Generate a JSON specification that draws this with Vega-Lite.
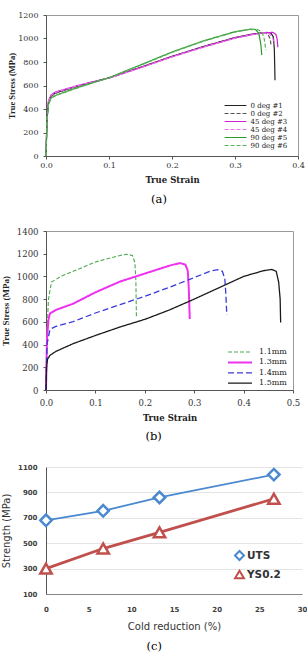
{
"$schema": "https://vega.github.io/schema/vega-lite/v6.json",
"padding": {"left": 0, "top": 10, "right": 0, "bottom": 0},
"spacing": 20,
"align": "none",
"background": "white",
"config": {"view": {"stroke": "#999"}, "title": {"color": "#000"}, "axis": {"labelFlush": false}},
"resolve": {"scale": {"color": "independent", "strokeDash": "independent", "strokeWidth": "independent"}, "legend": {"color": "independent", "strokeDash": "independent", "strokeWidth": "independent"}},
"datasets": {
"a": [
{"s":0,"t":0,"c":"0 deg #1"},{"s":0.001,"t":200,"c":"0 deg #1"},{"s":0.002,"t":350,"c":"0 deg #1"},{"s":0.004,"t":462,"c":"0 deg #1"},{"s":0.008,"t":512,"c":"0 deg #1"},{"s":0.015,"t":537,"c":"0 deg #1"},{"s":0.03,"t":562,"c":"0 deg #1"},{"s":0.057,"t":606,"c":"0 deg #1"},{"s":0.1,"t":665,"c":"0 deg #1"},{"s":0.15,"t":755,"c":"0 deg #1"},{"s":0.2,"t":848,"c":"0 deg #1"},{"s":0.25,"t":932,"c":"0 deg #1"},{"s":0.3,"t":1008,"c":"0 deg #1"},{"s":0.33,"t":1040,"c":"0 deg #1"},{"s":0.35,"t":1052,"c":"0 deg #1"},{"s":0.357,"t":1046,"c":"0 deg #1"},{"s":0.361,"t":1012,"c":"0 deg #1"},{"s":0.3625,"t":900,"c":"0 deg #1"},{"s":0.3635,"t":645,"c":"0 deg #1"},
{"s":0,"t":0,"c":"0 deg #2"},{"s":0.001,"t":195,"c":"0 deg #2"},{"s":0.002,"t":345,"c":"0 deg #2"},{"s":0.004,"t":458,"c":"0 deg #2"},{"s":0.008,"t":508,"c":"0 deg #2"},{"s":0.015,"t":533,"c":"0 deg #2"},{"s":0.03,"t":560,"c":"0 deg #2"},{"s":0.057,"t":604,"c":"0 deg #2"},{"s":0.1,"t":663,"c":"0 deg #2"},{"s":0.15,"t":753,"c":"0 deg #2"},{"s":0.2,"t":846,"c":"0 deg #2"},{"s":0.25,"t":930,"c":"0 deg #2"},{"s":0.3,"t":1005,"c":"0 deg #2"},{"s":0.33,"t":1037,"c":"0 deg #2"},{"s":0.345,"t":1048,"c":"0 deg #2"},{"s":0.352,"t":1038,"c":"0 deg #2"},{"s":0.356,"t":995,"c":"0 deg #2"},{"s":0.357,"t":950,"c":"0 deg #2"},
{"s":0,"t":0,"c":"45 deg #3"},{"s":0.001,"t":210,"c":"45 deg #3"},{"s":0.002,"t":360,"c":"45 deg #3"},{"s":0.004,"t":470,"c":"45 deg #3"},{"s":0.008,"t":520,"c":"45 deg #3"},{"s":0.015,"t":545,"c":"45 deg #3"},{"s":0.03,"t":568,"c":"45 deg #3"},{"s":0.057,"t":610,"c":"45 deg #3"},{"s":0.1,"t":664,"c":"45 deg #3"},{"s":0.15,"t":752,"c":"45 deg #3"},{"s":0.2,"t":845,"c":"45 deg #3"},{"s":0.25,"t":928,"c":"45 deg #3"},{"s":0.3,"t":1005,"c":"45 deg #3"},{"s":0.33,"t":1038,"c":"45 deg #3"},{"s":0.35,"t":1050,"c":"45 deg #3"},{"s":0.36,"t":1052,"c":"45 deg #3"},{"s":0.365,"t":1035,"c":"45 deg #3"},{"s":0.367,"t":990,"c":"45 deg #3"},{"s":0.368,"t":925,"c":"45 deg #3"},
{"s":0,"t":0,"c":"45 deg #4"},{"s":0.001,"t":205,"c":"45 deg #4"},{"s":0.002,"t":355,"c":"45 deg #4"},{"s":0.004,"t":466,"c":"45 deg #4"},{"s":0.008,"t":516,"c":"45 deg #4"},{"s":0.015,"t":541,"c":"45 deg #4"},{"s":0.03,"t":565,"c":"45 deg #4"},{"s":0.057,"t":608,"c":"45 deg #4"},{"s":0.1,"t":662,"c":"45 deg #4"},{"s":0.15,"t":750,"c":"45 deg #4"},{"s":0.2,"t":843,"c":"45 deg #4"},{"s":0.25,"t":926,"c":"45 deg #4"},{"s":0.3,"t":1002,"c":"45 deg #4"},{"s":0.33,"t":1035,"c":"45 deg #4"},{"s":0.345,"t":1047,"c":"45 deg #4"},{"s":0.355,"t":1040,"c":"45 deg #4"},{"s":0.36,"t":1005,"c":"45 deg #4"},{"s":0.362,"t":950,"c":"45 deg #4"},
{"s":0,"t":0,"c":"90 deg #5"},{"s":0.001,"t":180,"c":"90 deg #5"},{"s":0.002,"t":330,"c":"90 deg #5"},{"s":0.004,"t":440,"c":"90 deg #5"},{"s":0.008,"t":495,"c":"90 deg #5"},{"s":0.015,"t":515,"c":"90 deg #5"},{"s":0.03,"t":545,"c":"90 deg #5"},{"s":0.057,"t":595,"c":"90 deg #5"},{"s":0.1,"t":667,"c":"90 deg #5"},{"s":0.15,"t":775,"c":"90 deg #5"},{"s":0.2,"t":885,"c":"90 deg #5"},{"s":0.25,"t":980,"c":"90 deg #5"},{"s":0.3,"t":1058,"c":"90 deg #5"},{"s":0.325,"t":1080,"c":"90 deg #5"},{"s":0.333,"t":1075,"c":"90 deg #5"},{"s":0.338,"t":1040,"c":"90 deg #5"},{"s":0.341,"t":950,"c":"90 deg #5"},{"s":0.3425,"t":860,"c":"90 deg #5"},
{"s":0,"t":0,"c":"90 deg #6"},{"s":0.001,"t":178,"c":"90 deg #6"},{"s":0.002,"t":325,"c":"90 deg #6"},{"s":0.004,"t":436,"c":"90 deg #6"},{"s":0.008,"t":492,"c":"90 deg #6"},{"s":0.015,"t":512,"c":"90 deg #6"},{"s":0.03,"t":542,"c":"90 deg #6"},{"s":0.057,"t":592,"c":"90 deg #6"},{"s":0.1,"t":665,"c":"90 deg #6"},{"s":0.15,"t":772,"c":"90 deg #6"},{"s":0.2,"t":882,"c":"90 deg #6"},{"s":0.25,"t":977,"c":"90 deg #6"},{"s":0.3,"t":1055,"c":"90 deg #6"},{"s":0.32,"t":1075,"c":"90 deg #6"},{"s":0.335,"t":1078,"c":"90 deg #6"},{"s":0.342,"t":1060,"c":"90 deg #6"},{"s":0.346,"t":1010,"c":"90 deg #6"},{"s":0.349,"t":900,"c":"90 deg #6"}
],
"b": [
{"s":0,"t":0,"c":"1.1mm"},{"s":0.002,"t":500,"c":"1.1mm"},{"s":0.005,"t":800,"c":"1.1mm"},{"s":0.011,"t":950,"c":"1.1mm"},{"s":0.03,"t":1000,"c":"1.1mm"},{"s":0.055,"t":1045,"c":"1.1mm"},{"s":0.1,"t":1127,"c":"1.1mm"},{"s":0.15,"t":1185,"c":"1.1mm"},{"s":0.163,"t":1195,"c":"1.1mm"},{"s":0.175,"t":1185,"c":"1.1mm"},{"s":0.18,"t":1120,"c":"1.1mm"},{"s":0.182,"t":950,"c":"1.1mm"},{"s":0.183,"t":650,"c":"1.1mm"},
{"s":0,"t":0,"c":"1.3mm"},{"s":0.002,"t":450,"c":"1.3mm"},{"s":0.005,"t":620,"c":"1.3mm"},{"s":0.008,"t":675,"c":"1.3mm"},{"s":0.02,"t":705,"c":"1.3mm"},{"s":0.055,"t":760,"c":"1.3mm"},{"s":0.1,"t":860,"c":"1.3mm"},{"s":0.15,"t":955,"c":"1.3mm"},{"s":0.2,"t":1025,"c":"1.3mm"},{"s":0.25,"t":1095,"c":"1.3mm"},{"s":0.271,"t":1118,"c":"1.3mm"},{"s":0.282,"t":1105,"c":"1.3mm"},{"s":0.287,"t":1050,"c":"1.3mm"},{"s":0.289,"t":900,"c":"1.3mm"},{"s":0.291,"t":625,"c":"1.3mm"},
{"s":0,"t":0,"c":"1.4mm"},{"s":0.002,"t":400,"c":"1.4mm"},{"s":0.008,"t":534,"c":"1.4mm"},{"s":0.02,"t":560,"c":"1.4mm"},{"s":0.055,"t":602,"c":"1.4mm"},{"s":0.1,"t":678,"c":"1.4mm"},{"s":0.15,"t":752,"c":"1.4mm"},{"s":0.2,"t":825,"c":"1.4mm"},{"s":0.25,"t":905,"c":"1.4mm"},{"s":0.3,"t":990,"c":"1.4mm"},{"s":0.335,"t":1050,"c":"1.4mm"},{"s":0.348,"t":1059,"c":"1.4mm"},{"s":0.357,"t":1045,"c":"1.4mm"},{"s":0.362,"t":980,"c":"1.4mm"},{"s":0.364,"t":850,"c":"1.4mm"},{"s":0.366,"t":660,"c":"1.4mm"},
{"s":0,"t":0,"c":"1.5mm"},{"s":0.001,"t":200,"c":"1.5mm"},{"s":0.003,"t":270,"c":"1.5mm"},{"s":0.008,"t":305,"c":"1.5mm"},{"s":0.02,"t":340,"c":"1.5mm"},{"s":0.055,"t":408,"c":"1.5mm"},{"s":0.1,"t":480,"c":"1.5mm"},{"s":0.15,"t":555,"c":"1.5mm"},{"s":0.2,"t":622,"c":"1.5mm"},{"s":0.25,"t":705,"c":"1.5mm"},{"s":0.3,"t":800,"c":"1.5mm"},{"s":0.35,"t":900,"c":"1.5mm"},{"s":0.4,"t":1000,"c":"1.5mm"},{"s":0.44,"t":1050,"c":"1.5mm"},{"s":0.457,"t":1062,"c":"1.5mm"},{"s":0.466,"t":1045,"c":"1.5mm"},{"s":0.471,"t":950,"c":"1.5mm"},{"s":0.474,"t":800,"c":"1.5mm"},{"s":0.475,"t":595,"c":"1.5mm"}
],
"c": [
{"x":0,"v":680,"g":"UTS"},{"x":6.7,"v":755,"g":"UTS"},{"x":13.3,"v":860,"g":"UTS"},{"x":26.7,"v":1040,"g":"UTS"},
{"x":0,"v":300,"g":"YS0.2"},{"x":6.7,"v":458,"g":"YS0.2"},{"x":13.3,"v":585,"g":"YS0.2"},{"x":26.7,"v":850,"g":"YS0.2"}
]
},
"vconcat": [
{
"spacing": 20,
"align": "none",
"resolve": {"scale": {"color": "independent", "strokeDash": "independent", "strokeWidth": "independent"}, "legend": {"color": "independent", "strokeDash": "independent", "strokeWidth": "independent"}},
"vconcat": [
{
"width": 252, "height": 141,
"data": {"name": "a"},
"title": {"text": "(a)", "orient": "bottom", "font": "DejaVu Serif", "fontSize": 11.5, "fontWeight": "normal", "offset": 10, "anchor": "middle", "frame": "bounds", "dx": 3},
"mark": {"type": "line", "strokeWidth": 1.2},
"encoding": {
"x": {"field": "s", "type": "quantitative", "scale": {"domain": [0, 0.4], "padding": 0, "nice": false},
 "axis": {"values": [0, 0.1, 0.2, 0.3, 0.4], "format": ".1f", "grid": false, "title": "True Strain", "labelFont": "DejaVu Serif", "labelFontSize": 8, "labelColor": "#333", "tickSize": 3, "tickColor": "#555", "domainColor": "#555", "labelPadding": 2, "titleFont": "DejaVu Serif", "titleFontWeight": "bold", "titleFontSize": 8.5, "titleColor": "#222", "titlePadding": 6}},
"y": {"field": "t", "type": "quantitative", "scale": {"domain": [0, 1200], "padding": 0, "nice": false},
 "axis": {"values": [0, 200, 400, 600, 800, 1000, 1200], "format": "d", "grid": false, "title": "True Stress (MPa)", "labelFont": "DejaVu Serif", "labelFontSize": 8, "labelColor": "#333", "tickSize": 3, "tickColor": "#555", "domainColor": "#555", "labelPadding": 5, "titleFont": "Liberation Serif", "titleFontWeight": "bold", "titleFontSize": 8.5, "titleColor": "#222", "titlePadding": 1}},
"color": {"field": "c", "type": "nominal",
 "scale": {"domain": ["0 deg #1", "0 deg #2", "45 deg #3", "45 deg #4", "90 deg #5", "90 deg #6"], "range": ["#222222", "#555555", "#d020d0", "#f070f0", "#2a9a2a", "#5fb35f"]},
 "legend": {"title": null, "orient": "none", "legendX": 186, "legendY": 87, "symbolType": "M-4,0H4", "symbolSize": 30, "symbolStrokeWidth": 1.2, "symbolFillColor": "transparent", "labelFont": "DejaVu Serif", "labelFontSize": 7, "labelColor": "#222", "rowPadding": 0, "labelOffset": 11.5}},
"strokeDash": {"field": "c", "type": "nominal",
 "scale": {"domain": ["0 deg #1", "0 deg #2", "45 deg #3", "45 deg #4", "90 deg #5", "90 deg #6"], "range": [[1, 0], [4, 2], [1, 0], [4, 2], [1, 0], [4, 2]]},
 "legend": {"title": null, "orient": "none", "legendX": 186, "legendY": 87, "symbolType": "M-4,0H4", "symbolSize": 30, "symbolStrokeWidth": 1.2, "symbolFillColor": "transparent", "labelFont": "DejaVu Serif", "labelFontSize": 7, "labelColor": "#222", "rowPadding": 0, "labelOffset": 11.5}}
}
},
{
"width": 247, "height": 159,
"data": {"name": "b"},
"title": {"text": "(b)", "orient": "bottom", "font": "DejaVu Serif", "fontSize": 11.5, "fontWeight": "normal", "offset": 9, "anchor": "middle", "frame": "bounds", "dx": 3},
"mark": {"type": "line"},
"encoding": {
"x": {"field": "s", "type": "quantitative", "scale": {"domain": [0, 0.5], "padding": 0, "nice": false},
 "axis": {"values": [0, 0.1, 0.2, 0.3, 0.4, 0.5], "format": ".1f", "grid": false, "title": "True Strain", "labelFont": "DejaVu Serif", "labelFontSize": 8.5, "labelColor": "#333", "tickSize": 3, "tickColor": "#555", "domainColor": "#555", "labelPadding": 5, "titleFont": "DejaVu Serif", "titleFontWeight": "bold", "titleFontSize": 8.5, "titleColor": "#222", "titlePadding": 7}},
"y": {"field": "t", "type": "quantitative", "scale": {"domain": [0, 1400], "padding": 0, "nice": false},
 "axis": {"values": [0, 200, 400, 600, 800, 1000, 1200, 1400], "format": "d", "grid": false, "title": "True Stress (MPa)", "labelFont": "DejaVu Serif", "labelFontSize": 8.5, "labelColor": "#333", "tickSize": 3, "tickColor": "#555", "domainColor": "#555", "labelPadding": 5, "titleFont": "Liberation Serif", "titleFontWeight": "bold", "titleFontSize": 9, "titleColor": "#222", "titlePadding": 6}},
"color": {"field": "c", "type": "nominal",
 "scale": {"domain": ["1.1mm", "1.3mm", "1.4mm", "1.5mm"], "range": ["#4caa4c", "#f030f0", "#3a3ad8", "#1a1a1a"]},
 "legend": {"title": null, "orient": "none", "legendX": 190, "legendY": 117, "symbolType": "M-4,0H4", "symbolSize": 36, "symbolFillColor": "transparent", "labelFont": "DejaVu Serif", "labelFontSize": 8, "labelColor": "#222", "rowPadding": 2.4, "labelOffset": 15}},
"strokeDash": {"field": "c", "type": "nominal",
 "scale": {"domain": ["1.1mm", "1.3mm", "1.4mm", "1.5mm"], "range": [[4, 2], [1, 0], [6, 3], [1, 0]]},
 "legend": {"title": null, "orient": "none", "legendX": 190, "legendY": 117, "symbolType": "M-4,0H4", "symbolSize": 36, "symbolFillColor": "transparent", "labelFont": "DejaVu Serif", "labelFontSize": 8, "labelColor": "#222", "rowPadding": 2.4, "labelOffset": 15}},
"strokeWidth": {"field": "c", "type": "nominal",
 "scale": {"type": "ordinal", "domain": ["1.1mm", "1.3mm", "1.4mm", "1.5mm"], "range": [1.1, 2, 1.3, 1.3]},
 "legend": {"title": null, "orient": "none", "legendX": 190, "legendY": 117, "symbolType": "M-4,0H4", "symbolSize": 36, "symbolFillColor": "transparent", "labelFont": "DejaVu Serif", "labelFontSize": 8, "labelColor": "#222", "rowPadding": 2.4, "labelOffset": 15}}
}
}
]
},
{
"width": 256, "height": 127,
"view": {"stroke": null},
"data": {"name": "c"},
"title": {"text": "(c)", "orient": "bottom", "font": "DejaVu Serif", "fontSize": 11.5, "fontWeight": "normal", "offset": 10, "anchor": "middle", "frame": "bounds", "dx": 0},
"encoding": {
"x": {"field": "x", "type": "quantitative", "scale": {"domain": [0, 30], "padding": 0, "nice": false},
 "axis": {"values": [0, 5, 10, 15, 20, 25, 30], "grid": false, "ticks": false, "tickSize": 0, "title": "Cold reduction (%)", "labelFont": "DejaVu Sans", "labelFontWeight": "bold", "labelFontSize": 7, "labelColor": "#404040", "domainColor": "#888", "labelPadding": 11, "titleFont": "DejaVu Sans", "titleFontWeight": "normal", "titleFontSize": 10, "titleColor": "#333", "titlePadding": 9}},
"y": {"field": "v", "type": "quantitative", "scale": {"domain": [100, 1100], "padding": 0, "nice": false},
 "axis": {"values": [100, 300, 500, 700, 900, 1100], "format": "d", "grid": true, "gridColor": "#e4e4e4", "ticks": false, "tickSize": 0, "title": "Strength (MPa)", "labelFont": "DejaVu Sans", "labelFontWeight": "bold", "labelFontSize": 7, "labelColor": "#404040", "domainColor": "#555", "labelPadding": 9, "titleFont": "DejaVu Sans", "titleFontWeight": "normal", "titleFontSize": 10, "titleColor": "#333", "titlePadding": 6}}
},
"layer": [
{
"mark": {"type": "line"},
"encoding": {
"color": {"field": "g", "type": "nominal", "scale": {"domain": ["UTS", "YS0.2"], "range": ["#4a88d0", "#c0504d"]}, "legend": null},
"strokeWidth": {"field": "g", "type": "nominal", "scale": {"type": "ordinal", "domain": ["UTS", "YS0.2"], "range": [1.8, 2.8]}, "legend": null}
}
},
{
"mark": {"type": "point", "filled": true, "fill": "white", "strokeWidth": 2.5, "size": 130, "opacity": 1},
"encoding": {
"stroke": {"field": "g", "type": "nominal", "scale": {"domain": ["UTS", "YS0.2"], "range": ["#4a88d0", "#c0504d"]},
 "legend": {"title": null, "orient": "none", "legendX": 188, "legendY": 535, "symbolSize": 80, "symbolStrokeWidth": 2, "labelFont": "DejaVu Sans", "labelFontWeight": "bold", "labelFontSize": 10.5, "labelColor": "#333", "rowPadding": 2, "labelOffset": 2}},
"shape": {"field": "g", "type": "nominal", "scale": {"domain": ["UTS", "YS0.2"], "range": ["diamond", "triangle-up"]},
 "legend": {"title": null, "orient": "none", "legendX": 188, "legendY": 535, "symbolSize": 80, "symbolStrokeWidth": 2, "labelFont": "DejaVu Sans", "labelFontWeight": "bold", "labelFontSize": 10.5, "labelColor": "#333", "rowPadding": 2, "labelOffset": 2}}
}
}
]
}
]
}
